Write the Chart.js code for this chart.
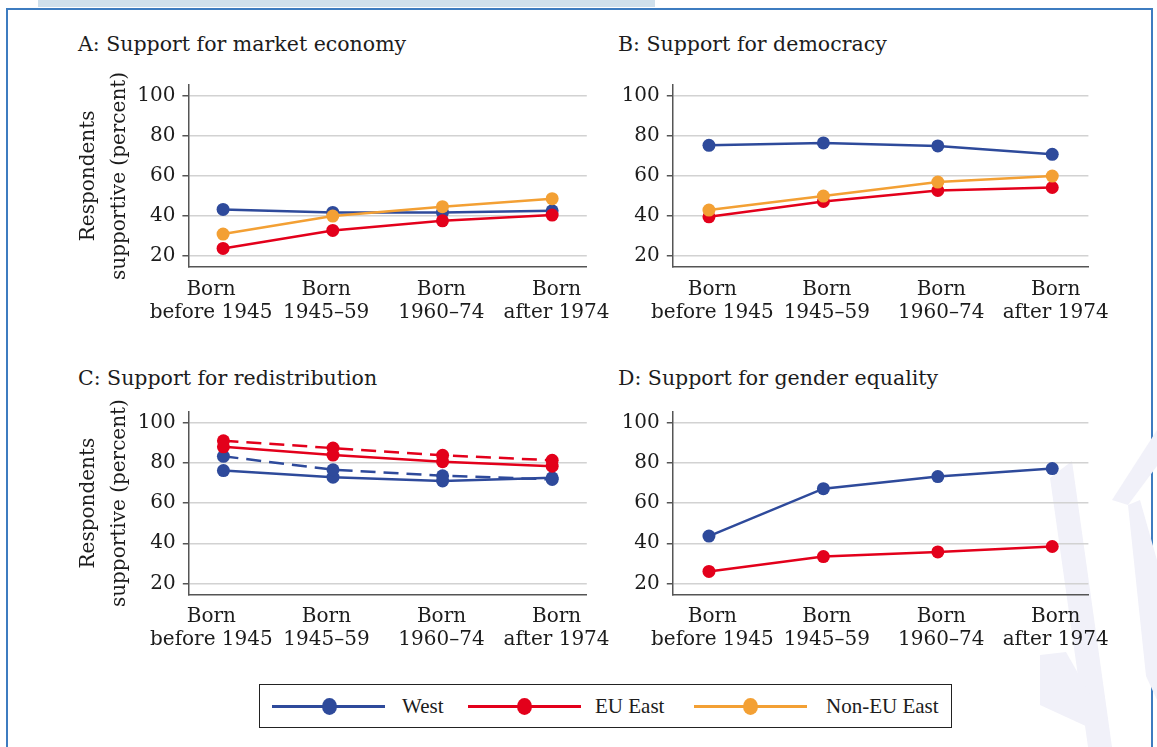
<!DOCTYPE html>
<html>
<head>
<meta charset="utf-8">
<script src="https://cdn.jsdelivr.net/npm/chart.js@4.4.1/dist/chart.umd.min.js"></script>
<style>
  html, body { margin: 0; padding: 0; background: #ffffff; }
  body { width: 1157px; height: 747px; position: relative; overflow: hidden; font-family: "DejaVu Serif", serif; color: #1c1c1c; }
  .tab { position: absolute; left: 38px; top: 0; width: 617px; height: 7px; background: #cfe0ec; }
  .frame { position: absolute; left: 6px; top: 8px; width: 1147px; height: 760px; border: 2.5px solid #3d7cc0; box-sizing: border-box; }
  .ptitle { position: absolute; font-family: "DejaVu Serif", serif; font-size: 20.5px; line-height: 24px; white-space: nowrap; color: #1c1c1c; }
  .panel { position: absolute; }
  .legend { position: absolute; left: 259px; top: 684px; width: 693px; height: 44px; border: 1.5px solid #222; box-sizing: border-box; background: #fff; }
  .lg-line { position: absolute; height: 2.5px; top: 20px; }
  .lg-dot { position: absolute; width: 15px; height: 17px; border-radius: 50%; top: 12.5px; }
  .lg-text { position: absolute; top: 9px; font-family: "Liberation Serif", serif; font-size: 21px; line-height: 24px; white-space: nowrap; color: #1c1c1c; }
  svg.wm { position: absolute; left: 0; top: 0; }
</style>
</head>
<body>
<div class="tab"></div>
<div class="frame"></div>
<svg class="wm" width="1157" height="747">
  <polygon points="1050,478 1072,461 1112,747 1088,747" fill="#f1f1f9"/>
  <polygon points="1157,430 1157,466 1128,505 1112,500" fill="#f1f1f9"/>
  <polygon points="1128,505 1140,500 1157,560 1157,700 1146,676" fill="#f1f1f9"/>
  <polygon points="1040,655 1066,652 1100,712 1090,728 1040,705" fill="#f1f1f9"/>
</svg>

<div class="ptitle" style="left:78px; top:32px;">A: Support for market economy</div>
<div class="ptitle" style="left:618px; top:32px;">B: Support for democracy</div>
<div class="ptitle" style="left:78px; top:366px;">C: Support for redistribution</div>
<div class="ptitle" style="left:618px; top:366px;">D: Support for gender equality</div>

<canvas id="cA" class="panel" style="left:60px; top:60px;" width="550" height="300"></canvas>
<canvas id="cB" class="panel" style="left:600px; top:60px;" width="540" height="300"></canvas>
<canvas id="cC" class="panel" style="left:60px; top:390px;" width="550" height="300"></canvas>
<canvas id="cD" class="panel" style="left:600px; top:390px;" width="540" height="300"></canvas>

<div class="legend">
  <div class="lg-line" style="left:12px; width:113px; background:#2e4a9b;"></div>
  <div class="lg-dot" style="left:62px; background:#2e4a9b;"></div>
  <div class="lg-text" style="left:142px;">West</div>
  <div class="lg-line" style="left:208px; width:113px; background:#e3001b;"></div>
  <div class="lg-dot" style="left:257px; background:#e3001b;"></div>
  <div class="lg-text" style="left:335px;">EU East</div>
  <div class="lg-line" style="left:434px; width:113px; background:#f3a034;"></div>
  <div class="lg-dot" style="left:483px; background:#f3a034;"></div>
  <div class="lg-text" style="left:566px;">Non-EU East</div>
</div>

<script>
// ---- data ----
const cohorts = [["Born", "before 1945"], ["Born", "1945\u201359"], ["Born", "1960\u201374"], ["Born", "after 1974"]];
const yTicks = [20, 40, 60, 80, 100];

// A: Support for market economy
const marketWest = [43.2, 41.7, 41.7, 42.5];
const marketEUEast = [23.7, 32.7, 37.5, 40.4];
const marketNonEUEast = [30.9, 39.9, 44.6, 48.6];

// B: Support for democracy
const democracyWest = [75.3, 76.5, 75.0, 70.8];
const democracyEUEast = [39.5, 47.2, 52.7, 54.2];
const democracyNonEUEast = [42.9, 49.9, 56.9, 59.9];

// C: Support for redistribution (solid and dashed series)
const redistWest = [76.2, 72.9, 71.0, 72.6];
const redistWestDashed = [83.3, 76.6, 73.6, 71.8];
const redistEUEast = [88.0, 83.9, 80.6, 78.4];
const redistEUEastDashed = [91.0, 87.4, 83.8, 81.3];

// D: Support for gender equality
const genderWest = [43.6, 67.2, 73.2, 77.2];
const genderEUEast = [26.0, 33.4, 35.7, 38.4];

// ---- style ----
const BLUE = "#2e4a9b", RED = "#e3001b", ORANGE = "#f3a034";
const AXIS = "#555555", GRID = "#d2d2d2";
const FONT = "DejaVu Serif";
// label placement nudges (in category units) to mimic the original typesetting
const NUDGE_LEFT = [-0.11, -0.06, -0.01, 0.04];
const NUDGE_RIGHT = [0.03, 0.03, 0.03, 0.03];

function pts(arr) { return arr.map((v, i) => ({ x: i, y: v })); }
function ds(label, arr, color, order, dashed) {
  return {
    label, data: pts(arr), borderColor: color, backgroundColor: color,
    pointBackgroundColor: color, pointBorderColor: color, pointBorderWidth: 0,
    pointRadius: 6.5, borderWidth: 2.5, tension: 0, order,
    borderDash: dashed ? [15, 8] : []
  };
}

function makePanel(id, datasets, geo) {
  const ctx = document.getElementById(id);
  return new Chart(ctx, {
    type: "line",
    data: { datasets },
    options: {
      responsive: false, animation: false, devicePixelRatio: 1,
      layout: { padding: { top: geo.padTop, right: geo.padRight, left: 0, bottom: 0 } },
      plugins: { legend: { display: false }, tooltip: { enabled: false }, title: { display: false } },
      scales: {
        x: {
          type: "linear", min: -0.316, max: 3.316,
          afterBuildTicks: (s) => { s.ticks = cohorts.map((c, i) => ({ value: i + geo.nudge[i] })); },
          afterFit: (s) => { s.height = geo.xHeight; s.paddingLeft = 0; s.paddingRight = 0; },
          grid: { display: false, drawTicks: false },
          border: { display: true, color: AXIS, width: 1.5 },
          ticks: {
            autoSkip: false, maxRotation: 0, minRotation: 0, padding: 11, color: "#1c1c1c",
            font: { family: FONT, size: 20, lineHeight: 1.15 },
            callback: (v) => cohorts[Math.round(v)]
          }
        },
        y: {
          min: 14.5, max: 105.5,
          afterBuildTicks: (s) => { s.ticks = yTicks.map(v => ({ value: v })); },
          afterFit: (s) => { s.width = geo.yWidth; s.paddingTop = 0; s.paddingBottom = 0; },
          grid: { display: true, color: GRID, lineWidth: 1.5, drawTicks: true, tickLength: 6, tickColor: AXIS, tickWidth: 1.5 },
          border: { display: true, color: AXIS, width: 1.5 },
          ticks: { padding: 7, color: "#1c1c1c", font: { family: FONT, size: 20 } },
          title: geo.yTitle ? {
            display: true, text: ["Respondents", "supportive (percent)"], color: "#1c1c1c",
            font: { family: FONT, size: 20, lineHeight: 1.55 }, padding: { top: 13, bottom: 0 }
          } : { display: false }
        }
      }
    }
  });
}

makePanel("cA", [
  ds("West", marketWest, BLUE, 3),
  ds("EU East", marketEUEast, RED, 2),
  ds("Non-EU East", marketNonEUEast, ORANGE, 1)
], { padTop: 25, padRight: 23.2, xHeight: 93.2, yWidth: 128.4, yTitle: true, nudge: NUDGE_LEFT });

makePanel("cB", [
  ds("West", democracyWest, BLUE, 3),
  ds("EU East", democracyEUEast, RED, 2),
  ds("Non-EU East", democracyNonEUEast, ORANGE, 1)
], { padTop: 25, padRight: 51.6, xHeight: 93.2, yWidth: 72.8, yTitle: false, nudge: NUDGE_RIGHT });

makePanel("cC", [
  ds("West", redistWest, BLUE, 4),
  ds("West (dashed)", redistWestDashed, BLUE, 3, true),
  ds("EU East", redistEUEast, RED, 2),
  ds("EU East (dashed)", redistEUEastDashed, RED, 1, true)
], { padTop: 21.7, padRight: 23.2, xHeight: 95.5, yWidth: 128.8, yTitle: true, nudge: NUDGE_LEFT });

makePanel("cD", [
  ds("West", genderWest, BLUE, 2),
  ds("EU East", genderEUEast, RED, 1)
], { padTop: 21.7, padRight: 51.6, xHeight: 95.5, yWidth: 72.8, yTitle: false, nudge: NUDGE_RIGHT });
</script>
</body>
</html>
